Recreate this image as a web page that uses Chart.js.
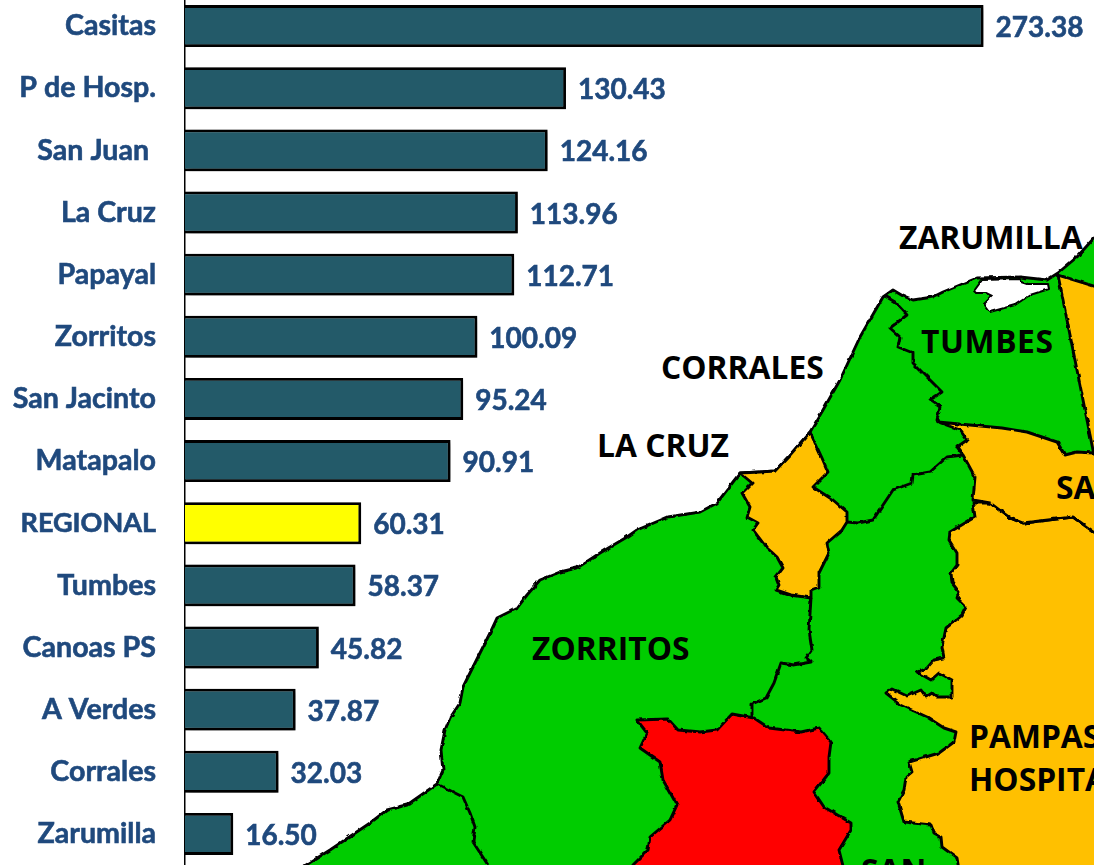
<!DOCTYPE html>
<html><head><meta charset="utf-8">
<script src="https://cdn.jsdelivr.net/npm/chart.js@4"></script>
<style>
html,body{margin:0;padding:0;background:#fff;width:1094px;height:865px;overflow:hidden}
#map{position:absolute;left:0;top:0}
#wrap{position:absolute;left:0;top:-5px;width:1094px;height:870px}
svg text{font-family:"Open Sans";font-weight:700;font-size:31.8px;fill:#000}
</style></head><body>
<svg id="map" width="1094" height="865" viewBox="0 0 1094 865">
<defs><filter id="rough" x="-2%" y="-2%" width="104%" height="104%"><feTurbulence type="fractalNoise" baseFrequency="0.14" numOctaves="2" seed="4"/><feDisplacementMap in="SourceGraphic" scale="3.2" xChannelSelector="R" yChannelSelector="G"/></filter></defs>
<g stroke="#000" stroke-width="2.9" stroke-linejoin="round" fill="none" filter="url(#rough)">
<path fill="#00CC00" d="M306,865 L330,850 370,823 387,810 407,805 437,784 443,770 441,750 445,730 450,718 460,703 463,687 473,667 490,633 497,618 517,608 527,595 540,580 560,572 577,568 600,553 627,537 637,530 668,517 700,512 717,503 733,482 740,473 760,472 775,471 790,455 810,432 823,410 840,380 860,337 883,297 893,290 903,296 913,300 933,297 943,292 960,285 977,278 1020,277 1047,280 1058,273 1077,257 1094,238 L1100,238 1100,870 300,870 Z"/>
<path fill="#FFC000" d="M1058,275 L1100,288 1100,480 1094,455 Z"/>
<path fill="#fff" stroke-width="2" d="M974,291 L982,280 1020,279 1022,282 1028,284 1048,284 1049,289 1030,295 1015,305 990,312 984,304 992,296 986,293 976,293 Z"/>
<path fill="#FFC000" d="M973,503 L975,517 950,532 949,540 957,553 957,565 951,573 952,583 959,592 957,598 966,607 962,615 946,628 942,647 944,658 934,660 927,668 917,672 931,680 939,673 952,680 952,697 937,697 932,693 926,697 921,690 907,696 892,689 886,693 901,705 927,717 944,728 956,732 954,742 939,753 909,762 912,772 906,777 904,790 898,802 904,822 931,825 934,833 941,837 942,847 957,858 959,870 1100,870 1100,535 1094,532 1073,517 1023,523 1010,518 990,503 Z"/>
<path fill="#FFC000" d="M938,422 L960,430 967,440 957,447 963,455 975,477 973,500 990,503 1010,518 1023,523 1073,517 1094,532 1100,535 1100,453 1094,453 1077,452 1065,455 1057,442 1027,432 1002,428 Z"/>
<path fill="#FF0000" d="M637,720 L668,719 678,730 700,732 717,730 732,714 754,718 769,728 801,732 819,728 831,742 829,757 829,773 814,792 824,807 851,823 851,830 839,850 844,870 630,870 633,865 648,850 650,837 670,820 677,805 663,780 660,762 640,748 647,733 Z"/>
<path fill="#FFC000" d="M740,473 L752,483 742,493 750,507 747,517 758,523 753,530 766,547 777,557 783,568 776,577 779,585 776,590 791,595 811,598 811,590 819,587 819,573 829,553 827,543 842,530 847,522 847,512 833,500 813,487 828,472 822,458 810,432 790,455 775,471 760,472 Z"/>
<path d="M885,296 L895,302 907,315 890,328 900,337 898,347 913,353 913,363 930,380 942,392 930,400 940,407 937,420 938,422"/>
<path d="M847,522 L858,523 873,520 893,490 912,483 913,475 930,472 947,457 963,455"/>
<path d="M811,598 L809,630 812,650 806,658 811,662 794,665 781,663 774,683 766,698 752,704 752,717"/>
<path d="M437,784 L463,797 470,813 475,827 473,842 488,865"/>
</g>
<text x="899" y="249">ZARUMILLA</text>
<text x="921" y="353" textLength="132">TUMBES</text>
<text x="661" y="379">CORRALES</text>
<text x="597" y="457">LA CRUZ</text>
<text x="1056" y="499">SAN JUAN</text>
<text x="532" y="660">ZORRITOS</text>
<text x="969" y="748">PAMPAS DE</text>
<text x="969" y="791">HOSPITAL</text>
<text x="861" y="882">SAN</text>
</svg>
<div id="wrap"><canvas id="c" width="1094" height="870"></canvas></div>
<script>
const categories = ["Casitas","P de Hosp.","San Juan ","La Cruz","Papayal","Zorritos","San Jacinto","Matapalo","REGIONAL","Tumbes","Canoas PS","A Verdes","Corrales","Zarumilla"];
const values = [273.38,130.43,124.16,113.96,112.71,100.09,95.24,90.91,60.31,58.37,45.82,37.87,32.03,16.50];
const barColors = ["#235A69","#235A69","#235A69","#235A69","#235A69","#235A69","#235A69","#235A69","#FFFF00","#235A69","#235A69","#235A69","#235A69","#235A69"];
const FONT = 'Lato';
const shadowPlugin = {
  id:'shadow',
  beforeDatasetsDraw(ch){const x=ch.ctx;x.save();x.shadowColor='rgba(0,0,0,0.55)';x.shadowBlur=6;x.shadowOffsetX=2;x.shadowOffsetY=2;},
  afterDatasetsDraw(ch){ch.ctx.restore();}
};
const valuePlugin = {
  id:'values',
  afterDatasetsDraw(ch){
    const x=ch.ctx, meta=ch.getDatasetMeta(0);
    x.save();x.font='700 28px '+FONT;x.fillStyle='#1F497D';x.strokeStyle='#1F497D';x.lineWidth=0.6;x.textAlign='left';x.textBaseline='middle';
    meta.data.forEach((b,i)=>{const s=values[i].toFixed(2);x.fillText(s,b.x+12,b.y+2);x.strokeText(s,b.x+12,b.y+2);});
    x.restore();
  }
};
new Chart(document.getElementById('c'),{
  type:'bar',
  data:{labels:categories,datasets:[{data:values,backgroundColor:barColors,borderColor:'#000',borderWidth:2.8,categoryPercentage:1,barPercentage:0.675}]},
  plugins:[shadowPlugin,valuePlugin],
  options:{
    indexAxis:'y',responsive:false,animation:false,
    layout:{padding:0},
    plugins:{legend:{display:false},tooltip:{enabled:false}},
    scales:{
      x:{display:false,min:0,max:311.2},
      y:{
        afterFit(s){s.width=185;s.paddingTop=0;s.paddingBottom=0;},
        grid:{drawOnChartArea:false,drawTicks:false},
        border:{color:'#000',width:1.5},
        ticks:{color:'#1F497D',font:c=>({family:FONT,weight:'700',size:categories[c.index]==='REGIONAL'?27:28.6}),padding:29,autoSkip:false,textStrokeColor:'#1F497D',textStrokeWidth:0.6}
      }
    }
  }
});
</script>
</body></html>
